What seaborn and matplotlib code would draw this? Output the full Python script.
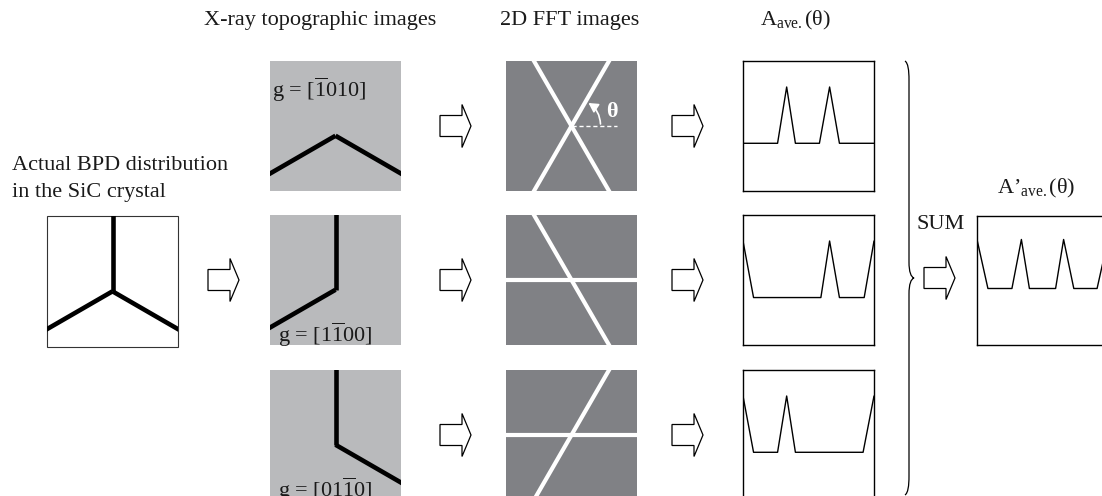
import numpy as np
import matplotlib
matplotlib.use("Agg")
import matplotlib.pyplot as plt
import seaborn as sns
from matplotlib.patches import Rectangle, Polygon, FancyArrowPatch, PathPatch
from matplotlib.path import Path

# ---------------------------------------------------------------- data
# BPD arm directions (deg, counter-clockwise from +x) of the three-fold network
bpd_arms = [90, 210, 330]
# reflection vectors and the arms that stay visible under each of them
g_labels = [r"g = [$\overline{1}$010]", r"g = [1$\overline{1}$00]", r"g = [01$\overline{1}$0]"]
visible_arms = [[210, 330], [90, 210], [90, 330]]

# angular profiles A_ave(theta): knots in theta (deg) and normalised amplitude
theta_1 = [0, 47.5, 60, 72, 105, 119, 132.5, 180]
amp_1 = [0.367, 0.367, 0.80, 0.367, 0.367, 0.80, 0.367, 0.367]
theta_2 = [0, 14.5, 107, 119, 132.5, 166.5, 180]
amp_2 = [0.80, 0.365, 0.365, 0.80, 0.365, 0.365, 0.80]
theta_3 = [0, 14.5, 47.5, 60, 72, 165, 180]
amp_3 = [0.80, 0.367, 0.367, 0.80, 0.367, 0.367, 0.80]
# summed profile A'_ave(theta)
theta_sum = [0, 15, 48, 61, 72, 108, 119, 133, 165, 180]
amp_sum = [0.818, 0.438, 0.438, 0.818, 0.438, 0.438, 0.818, 0.438, 0.438, 0.818]

profiles = [(theta_1, amp_1), (theta_2, amp_2), (theta_3, amp_3)]

# ---------------------------------------------------------------- style
sns.set_style("white")
plt.rcParams["font.family"] = ["Liberation Serif", "DejaVu Serif"]
plt.rcParams["mathtext.fontset"] = "custom"
plt.rcParams["mathtext.rm"] = "Liberation Serif"
plt.rcParams["mathtext.it"] = "Liberation Serif:italic"
plt.rcParams["mathtext.bf"] = "Liberation Serif:bold"

W, H = 1102, 496
FS = 16
TXT = "#1a1a1a"
TOPO_GREY = "#b9babc"
FFT_GREY = "#808185"

fig = plt.figure(figsize=(W / 100, H / 100), dpi=100)
base = fig.add_axes([0, 0, 1, 1])
base.set_xlim(0, W)
base.set_ylim(H, 0)
base.axis("off")


def px_axes(x0, y0, w, h):
    """Axes placed in pixel units (origin top-left)."""
    return fig.add_axes([x0 / W, 1 - (y0 + h) / H, w / W, h / H])


def ray(ax, origin, ang, length, clip, **kw):
    a = np.deg2rad(ang)
    x = [origin[0], origin[0] + length * np.cos(a)]
    y = [origin[1], origin[1] - length * np.sin(a)]
    ln, = ax.plot(x, y, solid_capstyle="butt", **kw)
    ln.set_clip_path(clip)


def full_line(ax, centre, ang, length, clip, **kw):
    a = np.deg2rad(ang)
    dx, dy = length * np.cos(a), -length * np.sin(a)
    ln, = ax.plot([centre[0] - dx, centre[0] + dx], [centre[1] - dy, centre[1] + dy],
                  solid_capstyle="butt", **kw)
    ln.set_clip_path(clip)


def block_arrow(ax, x0, yc):
    pts = [(x0, yc - 10.5), (x0 + 22, yc - 10.5), (x0 + 22, yc - 21.5), (x0 + 31, yc),
           (x0 + 22, yc + 21.5), (x0 + 22, yc + 10.5), (x0, yc + 10.5)]
    ax.add_patch(Polygon(pts, closed=True, facecolor="white", edgecolor="black",
                         lw=0.9, joinstyle="miter"))


row_tops = [61, 215, 370]
PW, PH = 131, 130
JY = 0.575  # junction height (fraction from panel top)

# ---------------------------------------------------------------- column titles
base.text(320, 25, "X-ray topographic images", fontsize=FS, color=TXT, ha="center", va="baseline")
base.text(570, 25, "2D FFT images", fontsize=FS, color=TXT, ha="center", va="baseline")
base.text(796, 25, r"A$_{\mathrm{ave.}}$(θ)", fontsize=FS, color=TXT, ha="center", va="baseline")

# ---------------------------------------------------------------- actual BPD network
base.text(12, 170, "Actual BPD distribution", fontsize=FS, color=TXT, ha="left", va="baseline")
base.text(12, 197, "in the SiC crystal", fontsize=FS, color=TXT, ha="left", va="baseline")
bx, by, bw, bh = 47, 216, 131, 131
box = Rectangle((bx, by), bw, bh, facecolor="white", edgecolor="#333333", lw=0.8)
base.add_patch(box)
for a in bpd_arms:
    ray(base, (bx + bw / 2, by + JY * bh), a, 200, box, color="black", lw=3.3)
block_arrow(base, 208, 280)

# ---------------------------------------------------------------- per-reflection rows
for i, top in enumerate(row_tops):
    yc = top + PH / 2

    # X-ray topograph
    tx = 270
    trect = Rectangle((tx, top), PW, PH, facecolor=TOPO_GREY, edgecolor="none")
    base.add_patch(trect)
    for a in visible_arms[i]:
        ray(base, (tx + PW / 2, top + JY * PH), a, 200, trect, color="black", lw=3.3)
    if i == 0:
        base.text(tx + 2, top + 36, g_labels[i], fontsize=FS, color=TXT, ha="left", va="baseline")
    else:
        base.text(tx + 8, top + 127, g_labels[i], fontsize=FS, color=TXT, ha="left", va="baseline")
    block_arrow(base, 440, yc)

    # 2D FFT: streaks normal to each visible dislocation line
    fx = 506
    frect = Rectangle((fx, top), PW, PH, facecolor=FFT_GREY, edgecolor="none")
    base.add_patch(frect)
    for a in visible_arms[i]:
        full_line(base, (fx + PW / 2, yc), (a + 90) % 180, 200, frect, color="white", lw=3.0)
    if i == 0:
        cx, cy = fx + PW / 2, yc
        base.plot([cx, cx + 45], [cy, cy], color="white", lw=1.0, ls=(0, (3, 2)))
        base.add_patch(FancyArrowPatch((cx + 29, cy - 2), (cx + 17, cy - 23),
                                       connectionstyle="arc3,rad=0.25",
                                       arrowstyle="-|>,head_length=0.5,head_width=0.28",
                                       mutation_scale=11, shrinkA=0, shrinkB=0,
                                       color="white", lw=1.2))
        base.text(cx + 40, cy - 14, "θ", fontsize=16, color="white", fontweight="bold",
                  ha="center", va="center")
    block_arrow(base, 672, yc)

    # angular profile
    ax = px_axes(743, top, PW, PH)
    th, am = profiles[i]
    sns.lineplot(x=th, y=am, ax=ax, color="black", lw=1.0)
    ax.set_xlim(0, 180)
    ax.set_ylim(0, 1)
    ax.set_xticks([])
    ax.set_yticks([])
    ax.set_xlabel("")
    ax.set_ylabel("")
    for s in ax.spines.values():
        s.set_color("black")
        s.set_linewidth(1.0)

# ---------------------------------------------------------------- summation brace
verts = [(905, 61), (908, 63), (909, 70), (909, 80),
         (909, 262),
         (909, 272), (911, 277), (914, 278),
         (911, 279), (909, 284), (909, 294),
         (909, 476),
         (909, 486), (908, 493), (905, 495)]
codes = [Path.MOVETO, Path.CURVE4, Path.CURVE4, Path.CURVE4,
         Path.LINETO,
         Path.CURVE4, Path.CURVE4, Path.CURVE4,
         Path.CURVE4, Path.CURVE4, Path.CURVE4,
         Path.LINETO,
         Path.CURVE4, Path.CURVE4, Path.CURVE4]
base.add_patch(PathPatch(Path(verts, codes), facecolor="none", edgecolor="black", lw=0.9))
base.text(917, 229, "SUM", fontsize=FS, color=TXT, ha="left", va="baseline")
block_arrow(base, 924, 278)

# ---------------------------------------------------------------- summed profile
base.text(1036, 193, r"A’$_{\mathrm{ave.}}$(θ)", fontsize=FS, color=TXT, ha="center", va="baseline")
axs = px_axes(977, 216, PW, 129)
sns.lineplot(x=theta_sum, y=amp_sum, ax=axs, color="black", lw=1.0)
axs.set_xlim(0, 180)
axs.set_ylim(0, 1)
axs.set_xticks([])
axs.set_yticks([])
axs.set_xlabel("")
axs.set_ylabel("")
for s in axs.spines.values():
    s.set_color("black")
    s.set_linewidth(1.0)

fig.savefig("out.png", dpi=100)
